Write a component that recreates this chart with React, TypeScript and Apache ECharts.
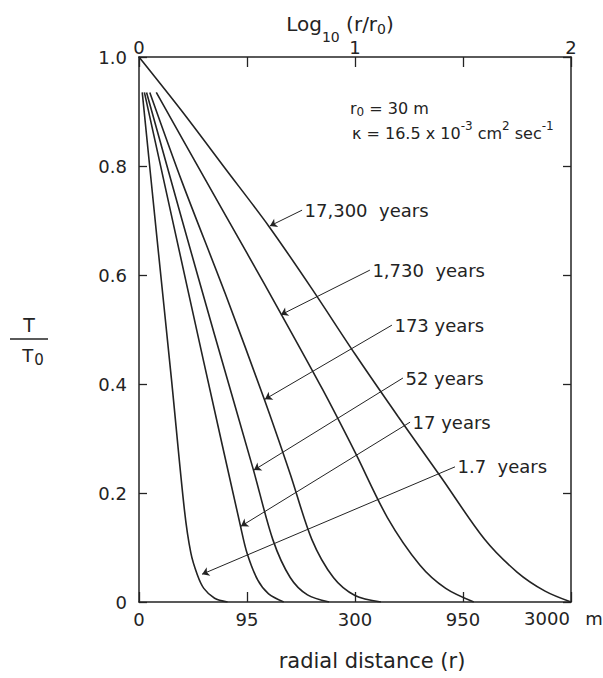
import React, { useEffect, useRef } from 'react';
import * as echarts from 'echarts';

const FONT = "'DejaVu Sans', sans-serif";
const INK = '#232323';

// x = log10(r / r0), y = T / T0
const x17300 = [0, 0.2, 0.4, 0.6, 0.8, 1.0, 1.2, 1.4, 1.6, 1.75, 1.88, 2.0];
const t17300 = [1.0, 0.9, 0.795, 0.69, 0.575, 0.455, 0.34, 0.228, 0.115, 0.055, 0.02, 0];

const x1730 = [0.08, 0.3, 0.5, 0.66, 0.85, 1.0, 1.15, 1.3, 1.42, 1.55];
const t1730 = [0.935, 0.78, 0.64, 0.527, 0.39, 0.275, 0.155, 0.068, 0.025, 0];

const x173 = [0.05, 0.2, 0.4, 0.58, 0.7, 0.8, 0.9, 1.0, 1.12];
const t173 = [0.935, 0.77, 0.565, 0.372, 0.235, 0.115, 0.045, 0.012, 0];

const x52 = [0.035, 0.2, 0.35, 0.53, 0.62, 0.7, 0.78, 0.88];
const t52 = [0.935, 0.7, 0.49, 0.242, 0.114, 0.045, 0.013, 0];

const x17 = [0.025, 0.15, 0.3, 0.47, 0.5, 0.55, 0.6, 0.67];
const t17 = [0.935, 0.71, 0.44, 0.139, 0.09, 0.04, 0.015, 0];

const x1p7 = [0.015, 0.08, 0.15, 0.21, 0.24, 0.27, 0.3, 0.35, 0.41];
const t1p7 = [0.935, 0.68, 0.41, 0.17, 0.09, 0.05, 0.025, 0.007, 0];

const curveNames = ['17,300  years', '1,730  years', '173 years', '52 years', '17 years', '1.7  years'];
const curveXs = [x17300, x1730, x173, x52, x17, x1p7];
const curveTs = [t17300, t1730, t173, t52, t17, t1p7];

// leader line: start (at label) and arrow tip (on curve), data coordinates
const labelX = [0.755, 1.069, 1.171, 1.222, 1.255, 1.463];
const labelY = [0.719, 0.609, 0.508, 0.411, 0.33, 0.248];
const tipX = [0.606, 0.657, 0.583, 0.532, 0.472, 0.292];
const tipY = [0.69, 0.527, 0.372, 0.242, 0.139, 0.051];

const bottomTickValues = [0, 0.5, 1, 1.5, 2];
const bottomTickLabels = ['0', '95', '300', '950', '3000'];
const topTickValues = [0, 1, 2];
const topTickLabels = ['0', '1', '2'];
const yTickValues = [0, 0.2, 0.4, 0.6, 0.8, 1.0];
const yTickLabels = ['0', '0.2', '0.4', '0.6', '0.8', '1.0'];

function lookup(values: number[], labels: string[], v: number): string {
  const i = values.findIndex((x) => Math.abs(x - v) < 1e-9);
  return i >= 0 ? labels[i] : '';
}

const axisLineStyle = { color: INK, width: 1.5 };

export default function App() {
  const ref = useRef<HTMLDivElement>(null);

  useEffect(() => {
    document.body.style.margin = '0';
    if (!ref.current) return;
    const chart = echarts.init(ref.current, null, { renderer: 'svg' });

    const series = curveXs.map((xs, i) => ({
      type: 'line',
      name: curveNames[i],
      data: xs.map((x, j) => [x, curveTs[i][j]]),
      symbol: 'none',
      showSymbol: false,
      smooth: 0.3,
      silent: true,
      lineStyle: { color: INK, width: 1.6 },
      markLine: {
        silent: true,
        symbol: ['none', 'arrow'],
        symbolSize: 7,
        lineStyle: { color: INK, width: 1, type: 'solid' },
        itemStyle: { color: INK },
        label: { show: false },
        data: [[{ coord: [labelX[i], labelY[i]] }, { coord: [tipX[i], tipY[i]] }]],
      },
      markPoint: {
        silent: true,
        symbol: 'circle',
        symbolSize: 1,
        itemStyle: { color: 'rgba(0,0,0,0)' },
        data: [
          {
            coord: [labelX[i], labelY[i]],
            label: {
              show: true,
              position: 'right',
              distance: 2,
              formatter: curveNames[i],
              color: INK,
              fontSize: 18,
              fontFamily: FONT,
            },
          },
        ],
      },
    }));

    chart.setOption({
      animation: false,
      backgroundColor: '#ffffff',
      grid: { left: 139, right: 32, top: 57, bottom: 76, containLabel: false },
      xAxis: [
        {
          type: 'value',
          position: 'bottom',
          min: 0,
          max: 2,
          interval: 0.5,
          axisLine: { show: true, onZero: false, lineStyle: axisLineStyle },
          axisTick: { show: true, inside: true, length: 10, lineStyle: { color: INK, width: 1.3 } },
          axisLabel: {
            show: true,
            margin: 8,
            fontSize: 18,
            fontFamily: FONT,
            color: INK,
            showMinLabel: true,
            showMaxLabel: true,
            formatter: (v: number) => (v === 2 ? '' : lookup(bottomTickValues, bottomTickLabels, v)),
          },
          splitLine: { show: false },
        },
        {
          type: 'value',
          position: 'top',
          min: 0,
          max: 2,
          interval: 0.5,
          axisLine: { show: true, onZero: false, lineStyle: axisLineStyle },
          axisTick: { show: true, inside: true, length: 10, lineStyle: { color: INK, width: 1.3 } },
          axisLabel: {
            show: true,
            margin: 1,
            fontSize: 18,
            fontFamily: FONT,
            color: INK,
            showMinLabel: true,
            showMaxLabel: true,
            formatter: (v: number) => lookup(topTickValues, topTickLabels, v),
          },
          splitLine: { show: false },
        },
      ],
      yAxis: [
        {
          type: 'value',
          position: 'left',
          min: 0,
          max: 1,
          interval: 0.2,
          axisLine: { show: true, onZero: false, lineStyle: axisLineStyle },
          axisTick: { show: true, inside: true, length: 8, lineStyle: { color: INK, width: 1.3 } },
          axisLabel: {
            show: true,
            margin: 12,
            fontSize: 18,
            fontFamily: FONT,
            color: INK,
            showMinLabel: true,
            showMaxLabel: true,
            formatter: (v: number) => lookup(yTickValues, yTickLabels, v),
          },
          splitLine: { show: false },
        },
        {
          type: 'value',
          position: 'right',
          min: 0,
          max: 1,
          interval: 0.2,
          axisLine: { show: true, onZero: false, lineStyle: axisLineStyle },
          axisTick: { show: true, inside: true, length: 8, lineStyle: { color: INK, width: 1.3 } },
          axisLabel: { show: false },
          splitLine: { show: false },
        },
      ],
      series,
    });

    const xEnd = chart.convertToPixel({ xAxisIndex: 0 }, 2) as number;
    const yBase = chart.convertToPixel({ yAxisIndex: 0 }, 0) as number;

    const txt = (id: string, x: number, y: number, text: string, size: number, align: string, rich?: any) => ({
      type: 'text',
      id,
      x,
      y,
      silent: true,
      style: {
        text,
        fill: INK,
        fontSize: size,
        fontFamily: FONT,
        align,
        textAlign: align,
        verticalAlign: 'middle',
        textVerticalAlign: 'middle',
        rich,
      },
    });

    chart.setOption({
      graphic: [
        txt('xTitleTop', 340, 24, 'Log{s|10} (r/r{t|0})', 20, 'center', {
          s: { fontSize: 14, fontFamily: FONT, fill: INK, color: INK, padding: [26, 0, 0, 0] },
          t: { fontSize: 14, fontFamily: FONT, fill: INK, color: INK, padding: [10, 0, 0, 0] },
        }),
        txt('xTitleBottom', 372, 661, 'radial distance (r)', 21, 'center'),
        txt('x3000', xEnd - 24, yBase + 16, bottomTickLabels[4], 18, 'center'),
        txt('xUnit', xEnd + 23, yBase + 16, 'm', 18, 'center'),
        txt('yNameTop', 29, 325, 'T', 19, 'center'),
        {
          type: 'line',
          id: 'yNameBar',
          silent: true,
          shape: { x1: 10, y1: 339, x2: 48, y2: 339 },
          style: { stroke: INK, lineWidth: 1.3 },
        },
        txt('yNameBottom', 33, 355, 'T{s|0}', 18, 'center', {
          s: { fontSize: 15, fontFamily: FONT, fill: INK, color: INK, padding: [10, 0, 0, 1] },
        }),
        txt('r0note', 350, 108, 'r{s|0} = 30 m', 16, 'left', {
          s: { fontSize: 12, fontFamily: FONT, fill: INK, color: INK, padding: [8, 0, 0, 0] },
        }),
        txt('kappaNote', 352, 133, 'κ = 16.5 x 10{p|-3} cm{p|2} sec{p|-1}', 16, 'left', {
          p: { fontSize: 12, fontFamily: FONT, fill: INK, color: INK, padding: [0, 0, 14, 0] },
        }),
      ],
    });

    return () => chart.dispose();
  }, []);

  return <div ref={ref} style={{ width: 603, height: 678, background: '#fff' }} />;
}
